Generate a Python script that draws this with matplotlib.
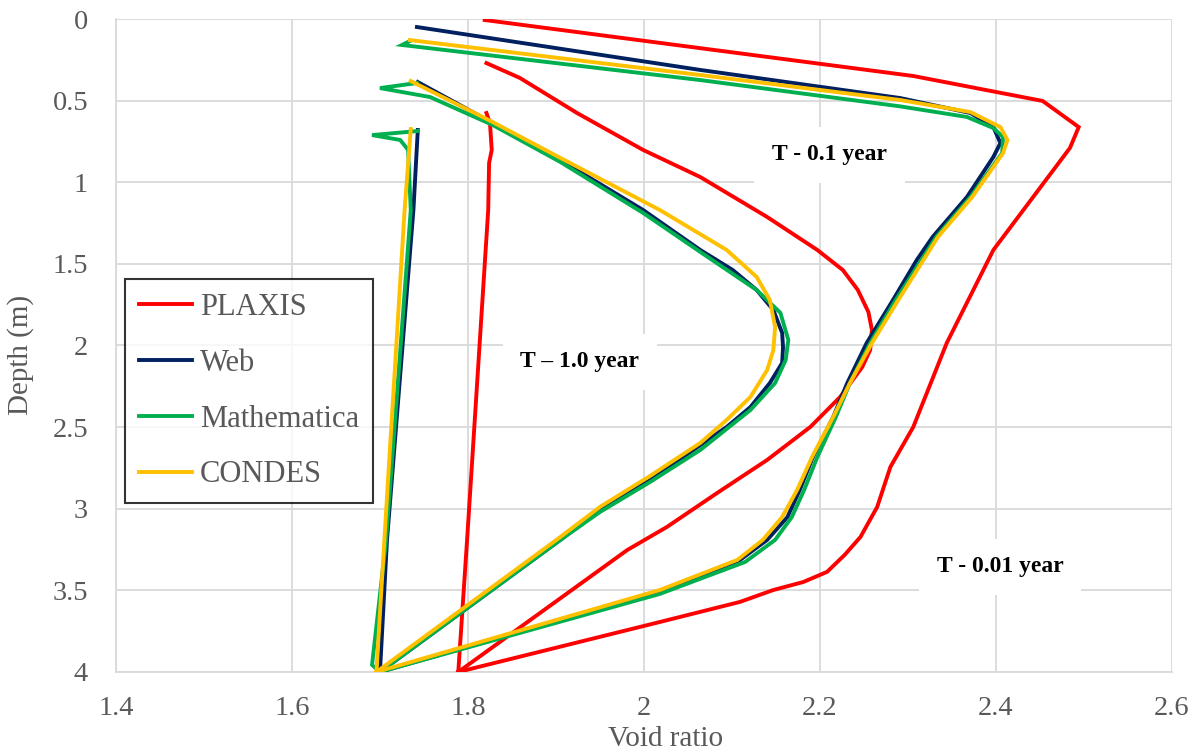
import matplotlib
matplotlib.use("Agg")
import matplotlib.pyplot as plt
from matplotlib.ticker import FuncFormatter

plt.rcParams['font.family'] = ['Liberation Serif', 'DejaVu Serif']

# Void ratio (e) vs depth (z) for each method and time
plaxis_e_001 = [1.819, 2.306, 2.453, 2.494, 2.484, 2.397, 2.344, 2.306, 2.280, 2.265, 2.246, 2.228, 2.208, 2.181, 2.147, 2.109, 2.018, 1.789]
plaxis_z_001 = [0.006, 0.349, 0.502, 0.662, 0.790, 1.415, 1.985, 2.499, 2.744, 2.989, 3.173, 3.283, 3.387, 3.449, 3.498, 3.571, 3.694, 4.0]
plaxis_e_01 = [1.821, 1.859, 1.924, 1.999, 2.064, 2.140, 2.197, 2.226, 2.243, 2.255, 2.259, 2.257, 2.248, 2.223, 2.189, 2.140, 2.083, 2.026, 1.981, 1.789]
plaxis_z_01 = [0.270, 0.361, 0.576, 0.802, 0.968, 1.213, 1.415, 1.538, 1.660, 1.795, 1.905, 2.028, 2.132, 2.315, 2.499, 2.701, 2.904, 3.112, 3.253, 4.0]
plaxis_e_1 = [1.821, 1.825, 1.827, 1.824, 1.823, 1.799, 1.789]
plaxis_z_1 = [0.576, 0.637, 0.802, 0.882, 1.170, 3.191, 4.0]

web_e_001 = [1.742, 2.064, 2.291, 2.371, 2.397, 2.405, 2.397, 2.367, 2.328, 2.310, 2.283, 2.253, 2.231, 2.215, 2.192, 2.177, 2.163, 2.140, 2.109, 2.018, 1.700]
web_z_001 = [0.049, 0.312, 0.484, 0.576, 0.662, 0.760, 0.845, 1.090, 1.335, 1.476, 1.721, 1.985, 2.230, 2.438, 2.683, 2.885, 3.051, 3.191, 3.314, 3.510, 4.0]
web_e_01 = [1.743, 1.828, 1.905, 1.999, 2.064, 2.101, 2.128, 2.147, 2.157, 2.158, 2.157, 2.143, 2.121, 2.094, 2.056, 2.007, 1.950, 1.905, 1.700]
web_z_01 = [0.386, 0.637, 0.864, 1.170, 1.415, 1.538, 1.660, 1.783, 1.923, 2.009, 2.107, 2.230, 2.377, 2.499, 2.640, 2.824, 3.008, 3.191, 4.0]
web_e_1 = [1.743, 1.738, 1.708, 1.700]
web_z_1 = [0.680, 1.170, 3.191, 4.0]

math_e_001 = [1.734, 1.725, 2.064, 2.291, 2.367, 2.397, 2.408, 2.407, 2.371, 2.332, 2.286, 2.257, 2.234, 2.218, 2.197, 2.182, 2.168, 2.149, 2.115, 2.018, 1.700]
math_z_001 = [0.135, 0.159, 0.374, 0.535, 0.600, 0.668, 0.723, 0.821, 1.090, 1.335, 1.721, 1.985, 2.230, 2.438, 2.683, 2.885, 3.051, 3.191, 3.326, 3.522, 4.0]
math_e_01 = [1.742, 1.700, 1.757, 1.828, 1.905, 1.999, 2.064, 2.128, 2.155, 2.164, 2.161, 2.149, 2.121, 2.064, 2.007, 1.950, 1.905, 1.700]
math_z_01 = [0.392, 0.423, 0.478, 0.649, 0.876, 1.188, 1.427, 1.660, 1.800, 1.966, 2.089, 2.230, 2.395, 2.640, 2.836, 3.020, 3.191, 4.0]
math_e_1 = [1.743, 1.691, 1.723, 1.732, 1.735, 1.707, 1.691, 1.700]
math_z_1 = [0.686, 0.711, 0.741, 0.802, 1.170, 3.191, 3.957, 4.0]

condes_e_001 = [1.734, 2.064, 2.291, 2.371, 2.405, 2.413, 2.408, 2.373, 2.334, 2.289, 2.259, 2.234, 2.215, 2.191, 2.174, 2.157, 2.135, 2.106, 2.018, 1.696]
condes_z_001 = [0.129, 0.343, 0.496, 0.570, 0.662, 0.741, 0.821, 1.090, 1.335, 1.721, 1.985, 2.230, 2.438, 2.683, 2.885, 3.051, 3.191, 3.314, 3.498, 4.0]
condes_e_01 = [1.735, 1.828, 1.905, 2.018, 2.094, 2.128, 2.143, 2.149, 2.147, 2.140, 2.121, 2.094, 2.064, 2.007, 1.950, 1.905, 1.696]
condes_z_01 = [0.380, 0.631, 0.851, 1.170, 1.415, 1.580, 1.721, 1.887, 2.028, 2.150, 2.315, 2.456, 2.597, 2.799, 2.989, 3.173, 4.0]
condes_e_1 = [1.735, 1.728, 1.705, 1.696]
condes_z_1 = [0.674, 1.170, 3.191, 4.0]

methods = ["PLAXIS", "Web", "Mathematica", "CONDES"]
colors = ["#FF0000", "#002060", "#00B050", "#FFC000"]
curves = [
    [(plaxis_e_001, plaxis_z_001), (plaxis_e_01, plaxis_z_01), (plaxis_e_1, plaxis_z_1)],
    [(web_e_001, web_z_001), (web_e_01, web_z_01), (web_e_1, web_z_1)],
    [(math_e_001, math_z_001), (math_e_01, math_z_01), (math_e_1, math_z_1)],
    [(condes_e_001, condes_z_001), (condes_e_01, condes_z_01), (condes_e_1, condes_z_1)],
]

time_labels = ["T - 0.1 year", "T \u2013 1.0 year", "T - 0.01 year"]
label_e = [2.211, 1.927, 2.405]
label_z = [0.833, 2.101, 3.357]

grey = "#595959"

fig = plt.figure(figsize=(11.99, 7.55), dpi=100)
ax = fig.add_axes([0.0967, 0.110, 0.8808, 0.8648])

for name, col, segs in zip(methods, colors, curves):
    for i, (e, z) in enumerate(segs):
        ax.plot(e, z, color=col, lw=2.8, solid_joinstyle='miter',
                label=name if i == 0 else None, zorder=3)

for txt, x, y in zip(time_labels, label_e, label_z):
    ax.text(x, y, txt, ha='center', va='center', fontsize=17, fontweight='bold',
            color='black', zorder=2,
            bbox=dict(boxstyle='square,pad=0.75', fc='white', ec='none'))

ax.set_xlim(1.4, 2.6)
ax.set_ylim(4, 0)
ax.set_xticks([1.4, 1.6, 1.8, 2.0, 2.2, 2.4, 2.6])
ax.set_yticks([0, 0.5, 1, 1.5, 2, 2.5, 3, 3.5, 4])
fmt = FuncFormatter(lambda v, p: '%g' % v)
ax.xaxis.set_major_formatter(fmt)
ax.yaxis.set_major_formatter(fmt)
ax.tick_params(axis='both', length=0, labelsize=20.5, labelcolor=grey)
ax.tick_params(axis='y', pad=20)
ax.tick_params(axis='x', pad=17)

ax.grid(True, color='#D9D9D9', lw=1.3)
ax.set_axisbelow(True)
for s in ['top', 'right']:
    ax.spines[s].set_visible(False)
for s in ['left', 'bottom']:
    ax.spines[s].set_color('#D9D9D9')
    ax.spines[s].set_linewidth(1.3)

ax.set_xlabel("Void ratio", fontsize=21, color=grey)
ax.set_ylabel("Depth (m)", fontsize=21, color=grey)
ax.xaxis.set_label_coords(0.52, -0.083)
ax.yaxis.set_label_coords(-0.078, 0.485)

leg = ax.legend(loc='upper left', bbox_to_anchor=(0.1043, 0.6305),
                bbox_transform=fig.transFigure, fontsize=22, frameon=True,
                fancybox=False, edgecolor='black', handlelength=1.75,
                labelspacing=0.88, handletextpad=0.25, borderpad=0.45,
                borderaxespad=0)
leg.get_frame().set_linewidth(1.5)
for t in leg.get_texts():
    t.set_color(grey)
leg.set_zorder(5)

fig.savefig("out.png", dpi=100)
